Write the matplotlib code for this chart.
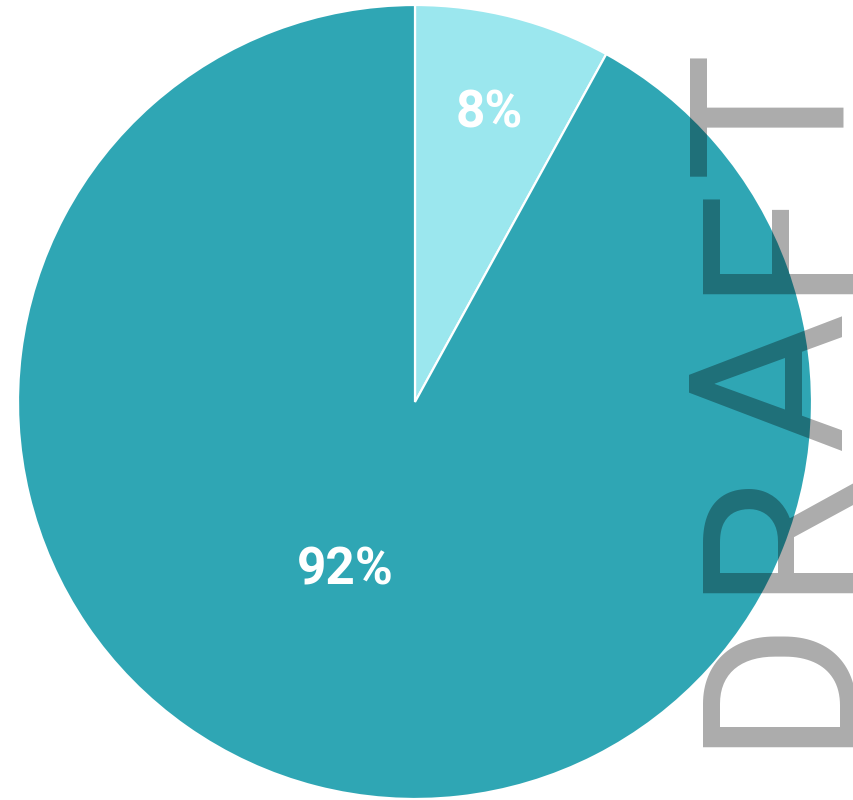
import numpy as np
import matplotlib.pyplot as plt

labels = ["8%", "92%"]
values = [8, 92]
colors = ["#9be7ee", "#2fa6b4"]
watermark = "DRAFT"

fig = plt.figure(figsize=(8.54, 8.0), dpi=100)
ax = fig.add_axes([0, 0, 1, 1])

wedges, _ = ax.pie(values, colors=colors, startangle=90, counterclock=False,
                   center=(415, 398), radius=397, frame=True,
                   wedgeprops=dict(edgecolor="white", linewidth=1.6))
ax.set_xlim(0, 854)
ax.set_ylim(0, 800)
ax.axis("off")

# label placement: fraction of radius and small angle shift per slice
label_r = [0.75, 0.46]
label_shift = [0, -8]
for w, lab, r, s in zip(wedges, labels, label_r, label_shift):
    mid = np.deg2rad((w.theta1 + w.theta2) / 2 + s)
    x = 415 + r * 397 * np.cos(mid)
    y = 398 + r * 397 * np.sin(mid)
    ax.text(x, y, lab, ha="center", va="center", color="white",
            fontsize=37, fontweight="bold", family="Roboto")

# watermark, letters spaced out along the right edge (bottom to top)
letter_y = [124, 273.5, 420, 565, 688]
for ch, ly in zip(watermark, letter_y):
    fig.text(0.914, ly / 800, ch, rotation=90, ha="center", va="center",
             fontsize=155, family="Roboto", color="black", alpha=0.33)

fig.savefig("out.png", dpi=100)
